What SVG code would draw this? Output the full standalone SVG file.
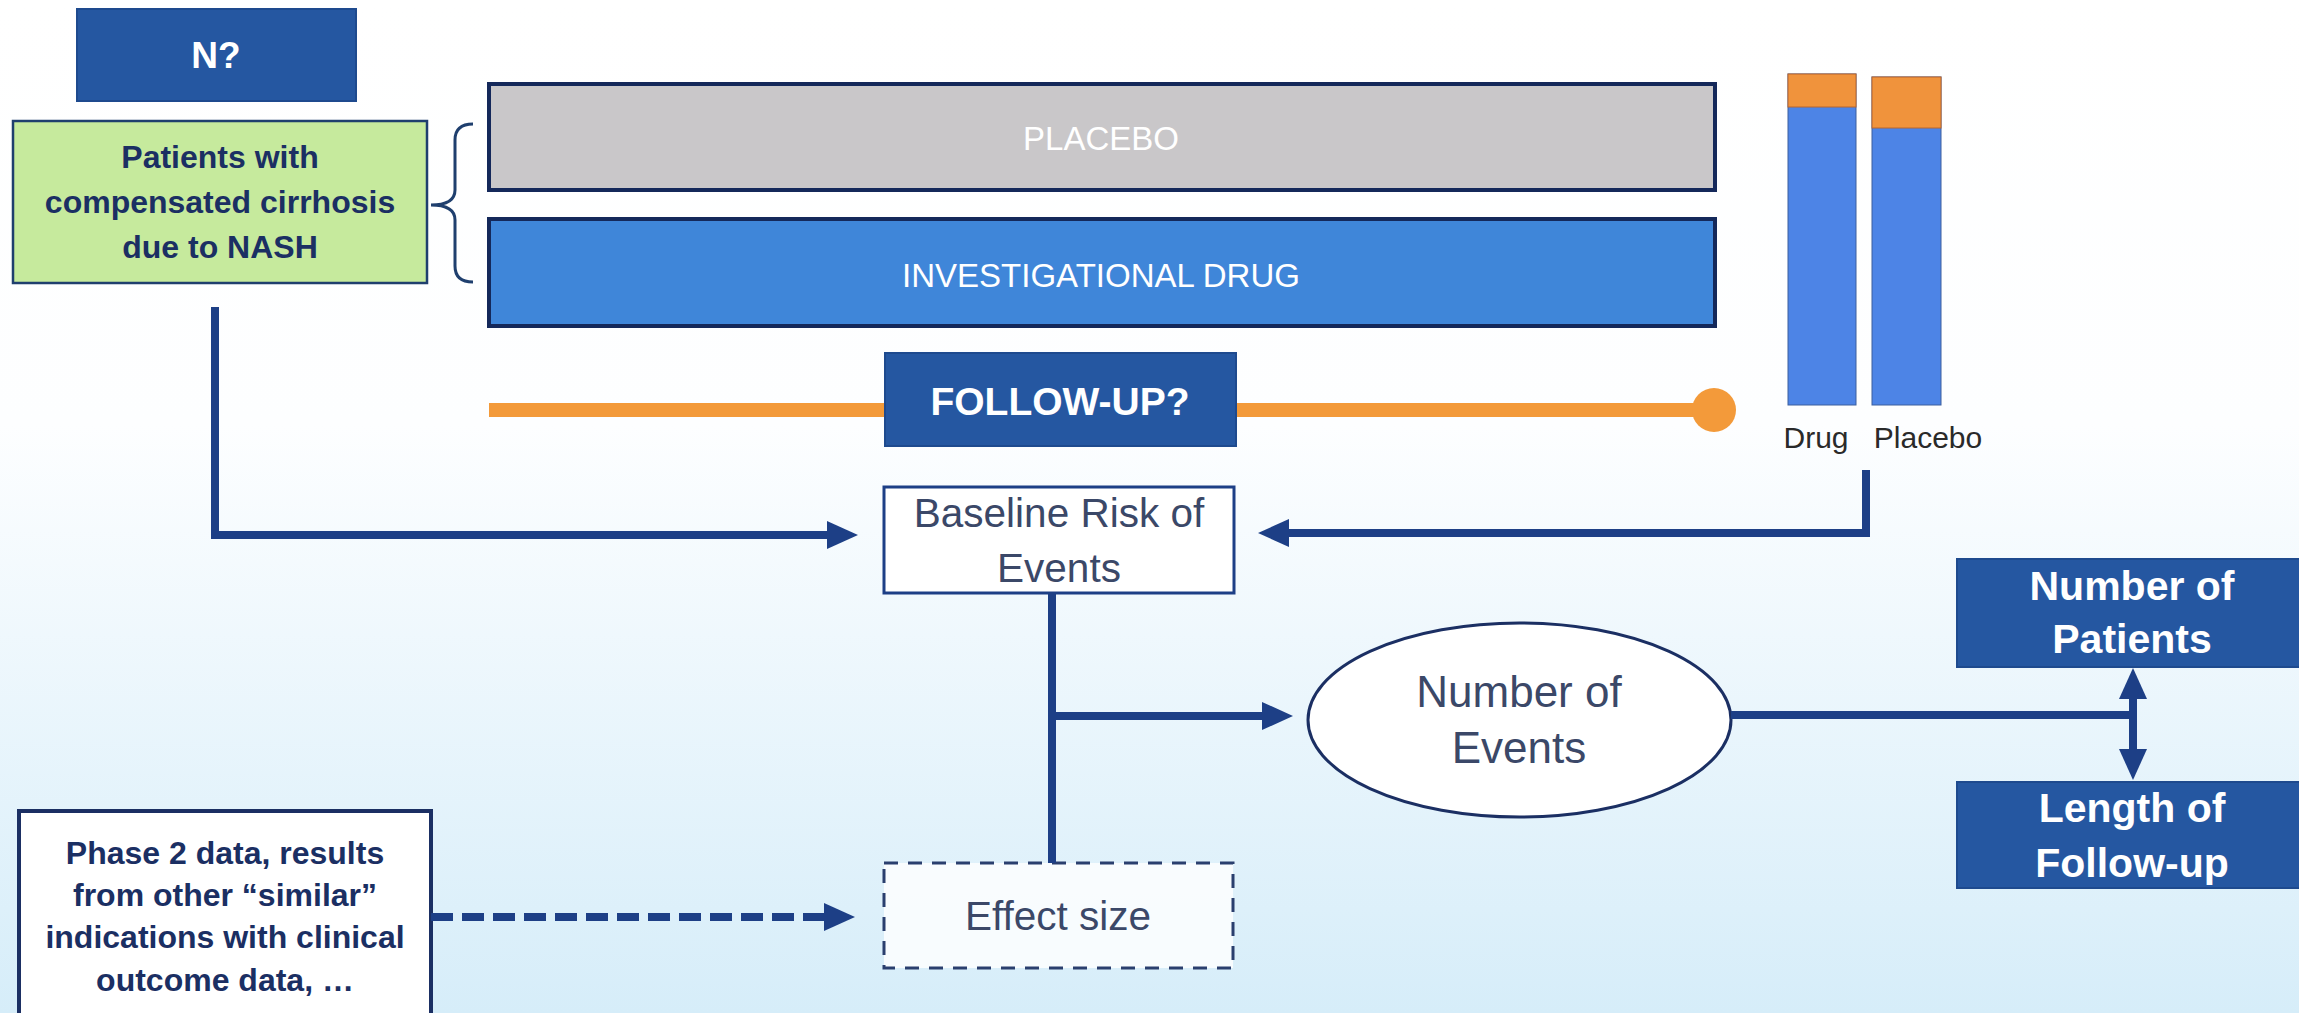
<svg xmlns="http://www.w3.org/2000/svg" width="2299" height="1013" viewBox="0 0 2299 1013">
<defs>
<linearGradient id="bg" x1="0" y1="0" x2="0" y2="1">
<stop offset="0" stop-color="#ffffff"/>
<stop offset="0.42" stop-color="#fdfeff"/>
<stop offset="1" stop-color="#d6edf9"/>
</linearGradient>
<marker id="ah" markerUnits="userSpaceOnUse" markerWidth="31" markerHeight="28" refX="2" refY="14" orient="auto-start-reverse" viewBox="0 0 31 28">
<path d="M0,0 L31,14 L0,28 z" fill="#1d3f86"/>
</marker>
<style>
.bold{font-family:"Liberation Sans",Arial,sans-serif;font-weight:bold;text-anchor:middle}
.reg{font-family:"Liberation Sans",Arial,sans-serif;text-anchor:middle}
.white{fill:#ffffff}
.navy{fill:#1b2f63}
.slate{fill:#3b4868}
.darkbox{fill:#2557a1;stroke:#1e4a8e;stroke-width:2}
.conn{fill:none;stroke:#1d3f86;stroke-width:8;stroke-linejoin:miter}
</style>
</defs>
<rect x="0" y="0" width="2299" height="1013" fill="url(#bg)"/>

<g id="n-question">
<rect class="darkbox" x="77" y="9" width="279" height="92"/>
<text class="bold white" x="216" y="68" font-size="37">N?</text>
</g>

<g id="population">
<rect x="13" y="121" width="414" height="162" fill="#c6ea9d" stroke="#1f3f6e" stroke-width="2.5"/>
<text class="bold navy" x="220" y="168" font-size="32">Patients with</text>
<text class="bold navy" x="220" y="213" font-size="32">compensated cirrhosis</text>
<text class="bold navy" x="220" y="258" font-size="32">due to NASH</text>
</g>

<g id="brace">
<path d="M473,124 Q455,124 455,140 L455,190 Q455,205 431,205 Q455,205 455,220 L455,266 Q455,282 473,282" fill="none" stroke="#1f3f6e" stroke-width="3"/>
</g>

<g id="placebo-arm">
<rect x="489" y="84" width="1226" height="106" fill="#c9c7c9" stroke="#14285a" stroke-width="4"/>
<text class="reg white" x="1101" y="150" font-size="33">PLACEBO</text>
</g>

<g id="drug-arm">
<rect x="489" y="219" width="1226" height="107" fill="#3f86d9" stroke="#14285a" stroke-width="4"/>
<text class="reg white" x="1101" y="287" font-size="33">INVESTIGATIONAL DRUG</text>
</g>

<g id="follow-up">
<line x1="489" y1="410" x2="1714" y2="410" stroke="#f39a3a" stroke-width="14"/>
<circle cx="1714" cy="410" r="22" fill="#f39a3a"/>
<rect class="darkbox" x="885" y="353" width="351" height="93"/>
<text class="bold white" x="1060" y="415" font-size="39">FOLLOW-UP?</text>
</g>

<g id="chart">
<rect x="1788" y="74" width="68" height="331" fill="#4d84e6" stroke="#3d5f9e" stroke-width="1"/>
<rect x="1788" y="74" width="68" height="33" fill="#f0933c" stroke="#b8652c" stroke-width="1"/>
<rect x="1872" y="77" width="69" height="328" fill="#4d84e6" stroke="#3d5f9e" stroke-width="1"/>
<rect x="1872" y="77" width="69" height="51" fill="#f0933c" stroke="#b8652c" stroke-width="1"/>
<text class="reg" x="1816" y="448" font-size="30" fill="#2a2a2a">Drug</text>
<text class="reg" x="1928" y="448" font-size="30" fill="#2a2a2a">Placebo</text>
</g>

<g id="baseline-risk">
<rect x="884" y="487" width="350" height="106" fill="#ffffff" stroke="#1d3f86" stroke-width="3"/>
<text class="reg slate" x="1059" y="527" font-size="40.5">Baseline Risk of</text>
<text class="reg slate" x="1059" y="582" font-size="40.5">Events</text>
</g>

<g id="number-events">
<ellipse cx="1519.5" cy="720" rx="211.5" ry="97" fill="#ffffff" stroke="#1b2f63" stroke-width="3"/>
<text class="reg slate" x="1519" y="707" font-size="44">Number of</text>
<text class="reg slate" x="1519" y="763" font-size="44">Events</text>
</g>

<g id="number-patients">
<rect class="darkbox" x="1957" y="559" width="350" height="108"/>
<text class="bold white" x="2132" y="600" font-size="41">Number of</text>
<text class="bold white" x="2132" y="653" font-size="41">Patients</text>
</g>

<g id="length-followup">
<rect class="darkbox" x="1957" y="782" width="350" height="106"/>
<text class="bold white" x="2132" y="822" font-size="41">Length of</text>
<text class="bold white" x="2132" y="877" font-size="41">Follow-up</text>
</g>

<g id="prior-data">
<rect x="19" y="811" width="412" height="220" fill="#ffffff" stroke="#1b2f63" stroke-width="4"/>
<text class="bold navy" x="225" y="864" font-size="32">Phase 2 data, results</text>
<text class="bold navy" x="225" y="906" font-size="32">from other “similar”</text>
<text class="bold navy" x="225" y="948" font-size="32">indications with clinical</text>
<text class="bold navy" x="225" y="991" font-size="32">outcome data, …</text>
</g>

<g id="effect-size">
<rect x="884" y="863" width="349" height="105" fill="#ffffff" fill-opacity="0.8" stroke="#2a3f6e" stroke-width="3" stroke-dasharray="14 10"/>
<text class="reg slate" x="1058" y="930" font-size="40.5">Effect size</text>
</g>

<g id="connectors">
<path class="conn" d="M215,307 V535 H829" marker-end="url(#ah)"/>
<path class="conn" d="M1866,470 V533 H1287" marker-end="url(#ah)"/>
<path class="conn" d="M1052,593 V863"/>
<path class="conn" d="M1052,716 H1264" marker-end="url(#ah)"/>
<path class="conn" d="M1731,715 H2133"/>
<path class="conn" d="M2133,697 V751" marker-start="url(#ah)" marker-end="url(#ah)"/>
<path class="conn" d="M431,917 H826" stroke-dasharray="22 9" marker-end="url(#ah)"/>
</g>
</svg>
